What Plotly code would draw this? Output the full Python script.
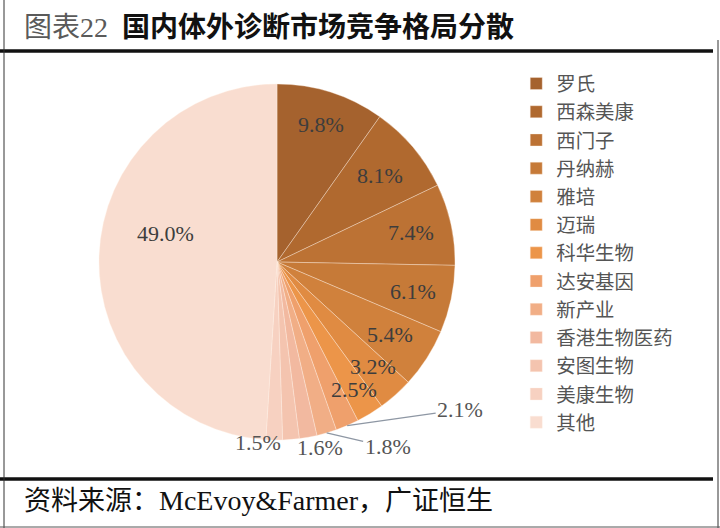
import math
import plotly.graph_objects as go

companies = ["罗氏", "西森美康", "西门子", "丹纳赫", "雅培", "迈瑞", "科华生物",
             "达安基因", "新产业", "香港生物医药", "安图生物", "美康生物", "其他"]
shares = [9.8, 8.1, 7.4, 6.1, 5.4, 3.2, 2.5, 2.1, 1.8, 1.6, 1.5, 1.5, 49.0]
show_label = [True] * 10 + [False] + [True] * 2
colors = ["#A5622E", "#B0692F", "#BC7234", "#C67A38", "#D0813C", "#E08B42",
          "#EC9549", "#EFA06C", "#F1AE86", "#F2B9A0", "#F4C4AF", "#F7D1C1", "#F9DDD0"]

title_prefix = "图表22"
title_main = "国内体外诊断市场竞争格局分散"
source_cn1 = "资料来源："
source_en = "McEvoy&Farmer"
source_cn2 = "，广证恒生"

# ---- layout / style (pixels) ----
W, H = 720, 528
CX, CY, R = 277, 262, 178
# per-label placement style: (radius fraction, dx px, dy px, leader-line offset or None)
label_style = [
    (0.81, 0, 0, None), (0.755, 0, 0, None), (0.77, 0, 0, None), (0.78, 0, 0, None),
    (0.755, 0, 0, None), (0.81, 0, -3, None), (0.83, 0, 2, None),
    (1.0, 0, 0, (113, -16)), (1.0, 0, 0, (61, 14)), (1.0, 12, 10, None),
    (1.0, 0, 0, None), (1.0, -16, 3, None), (0.6, -5, -25, None),
]

serif = "Liberation Serif, Noto Sans CJK SC"

fig = go.Figure()
fig.add_trace(go.Pie(
    labels=companies,
    values=shares,
    textinfo="none",
    sort=False,
    direction="clockwise",
    rotation=0,
    marker=dict(colors=colors, line=dict(color="rgba(255,240,230,0.6)", width=0.6)),
    domain=dict(x=[(CX - R) / W, (CX + R) / W], y=[1 - (CY + R) / H, 1 - (CY - R) / H]),
    hoverinfo="label+percent",
))

annotations = []
total = sum(shares)
cum = 0.0
for name, val, show, (rf, dx, dy, lead) in zip(companies, shares, show_label, label_style):
    mid = (cum + val / 2) / total * 2 * math.pi
    cum += val
    if not show:
        continue
    px = CX + rf * R * math.sin(mid)
    py = CY - rf * R * math.cos(mid)
    txt = f"{val / total * 100:.1f}%"
    outside = rf >= 1.0
    font = dict(family=serif, size=22, color="#555555" if outside else "#3d3d3d")
    if lead is not None:
        annotations.append(dict(
            text=txt, x=px / W, y=1 - py / H, xref="paper", yref="paper",
            showarrow=True, arrowhead=0, arrowwidth=1.3, arrowcolor="#8e97a4",
            ax=lead[0], ay=lead[1], standoff=0, xanchor="center", yanchor="middle",
            font=font))
    else:
        annotations.append(dict(
            text=txt, x=px / W, y=1 - py / H, xref="paper", yref="paper",
            showarrow=False, xshift=dx, yshift=-dy, xanchor="center", yanchor="middle",
            font=font))

annotations += [
    dict(text=f"<span style='color:#5a5a5a'>{title_prefix}</span>  <b>{title_main}</b>",
         x=22 / W, y=1 - 28 / H, xref="paper", yref="paper",
         xanchor="left", yanchor="middle", showarrow=False,
         font=dict(family=serif, size=28, color="#111111")),
    dict(text=f"{source_cn1}<span style='font-size:28px'>{source_en}</span>{source_cn2}",
         x=22 / W, y=1 - 500 / H, xref="paper", yref="paper",
         xanchor="left", yanchor="middle", showarrow=False,
         font=dict(family=serif, size=27, color="#111111")),
]

fig.update_layout(
    width=W, height=H,
    margin=dict(l=0, r=0, t=0, b=0),
    paper_bgcolor="white",
    plot_bgcolor="white",
    showlegend=True,
    legend=dict(
        x=0.717, y=0.878, xanchor="left", yanchor="top",
        font=dict(family=serif, size=19.4, color="#555555"),
        traceorder="normal",
        itemwidth=30,
        tracegroupgap=0,
        bgcolor="rgba(0,0,0,0)",
    ),
    annotations=annotations,
    shapes=[
        dict(type="line", xref="paper", yref="paper", x0=0, x1=713 / W,
             y0=1 - 51 / H, y1=1 - 51 / H, line=dict(color="#111111", width=3.5)),
        dict(type="line", xref="paper", yref="paper", x0=0, x1=713 / W,
             y0=1 - 479 / H, y1=1 - 479 / H, line=dict(color="#111111", width=3.5)),
        dict(type="line", xref="paper", yref="paper", x0=4 / W, x1=4 / W,
             y0=0, y1=1, line=dict(color="#333333", width=1)),
        dict(type="line", xref="paper", yref="paper", x0=718 / W, x1=718 / W,
             y0=0, y1=1 - 40 / H, line=dict(color="#333333", width=1)),
        dict(type="line", xref="paper", yref="paper", x0=0, x1=1,
             y0=1 / H, y1=1 / H, line=dict(color="#555555", width=1)),
    ],
)

fig.write_html("out.html")
